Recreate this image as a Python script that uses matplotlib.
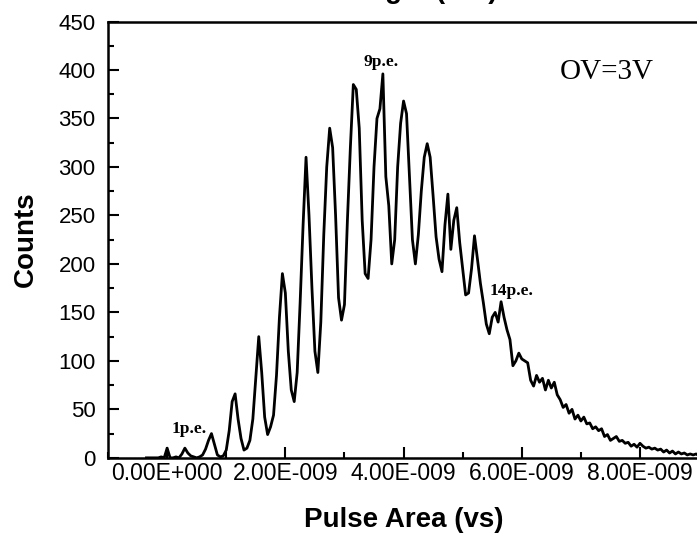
import numpy as np
import matplotlib.pyplot as plt
from matplotlib.ticker import MultipleLocator

# --- histogram (bin centres in units of 1E-9 Vs) ---
x_start = -0.35
bin_width = 0.05
counts = [
    0, 0, 0, 0, 0, 1, 0, 10, 0, 0,
    1, 0, 4, 10, 5, 2, 1, 0, 1, 3,
    9, 18, 25, 14, 3, 1, 2, 8, 28, 58,
    66, 40, 20, 8, 10, 18, 40, 82, 125, 88,
    42, 24, 32, 44, 85, 145, 190, 170, 110, 70,
    58, 88, 160, 240, 310, 250, 175, 110, 88, 140,
    230, 300, 340, 320, 250, 165, 142, 158, 245, 320,
    385, 380, 340, 245, 190, 185, 225, 300, 350, 360,
    396, 290, 260, 200, 225, 300, 345, 368, 355, 290,
    225, 200, 230, 275, 310, 324, 310, 270, 228, 205,
    192, 240, 272, 215, 245, 258, 222, 195, 168, 170,
    195, 229, 205, 180, 160, 138, 128, 145, 150, 140,
    161, 145, 132, 122, 95, 100, 108, 102, 100, 98,
    80, 74, 85, 78, 82, 70, 80, 72, 78, 65,
    60, 52, 55, 46, 50, 40, 44, 38, 42, 35,
    36, 30, 32, 28, 30, 22, 24, 18, 20, 22,
    17, 18, 15, 16, 12, 14, 11, 15, 12, 10,
    11, 9, 10, 8, 9, 6, 8, 5, 7, 4,
    6, 4, 5, 3, 4, 3, 4, 2, 3,
]
area = (x_start + bin_width * np.arange(len(counts))) * 1e-9

x_ticks = [0, 2e-9, 4e-9, 6e-9, 8e-9]
x_ticklabels = ["0.00E+000", "2.00E-009", "4.00E-009", "6.00E-009", "8.00E-009"]

# peak labels: (text, x, y)
peak_labels = [("1p.e.", 0.38e-9, 22), ("9p.e.", 3.62e-9, 400), ("14p.e.", 5.83e-9, 164)]

fig = plt.figure(figsize=(6.97, 5.38), dpi=100)
ax = fig.add_axes([0.155, 0.149, 0.848, 0.811])

ax.plot(area, counts, color='black', lw=2)

ax.set_xlim(-1e-9, 9e-9)
ax.set_ylim(0, 450)
ax.set_xticks(x_ticks)
ax.set_xticklabels(x_ticklabels)
ax.xaxis.set_minor_locator(MultipleLocator(1e-9))
ax.yaxis.set_major_locator(MultipleLocator(50))
ax.yaxis.set_minor_locator(MultipleLocator(25))

ax.tick_params(which='both', direction='in', width=1.5)
ax.tick_params(which='major', length=8)
ax.tick_params(which='minor', length=4)
ax.tick_params(axis='x', labelsize=16.5, pad=3)
ax.tick_params(axis='y', labelsize=16, pad=9)
for lab in ax.get_xticklabels() + ax.get_yticklabels():
    lab.set_family('Liberation Sans')
for sp in ax.spines.values():
    sp.set_linewidth(1.8)

ax.set_xlabel("Pulse Area (vs)", fontsize=20, fontweight='bold', family='Liberation Sans', labelpad=16)
ax.set_ylabel("Counts", fontsize=20, fontweight='bold', family='Liberation Sans', labelpad=14)

for txt, px, py in peak_labels:
    ax.text(px, py, txt, fontsize=12.5, fontweight='bold', family='Liberation Serif',
            ha='center', va='bottom')
ax.text(7.43e-9, 398, "OV=3V", fontsize=21, family='Liberation Serif', ha='center', va='center')

# title is cut off by the top edge of the original image
fig.text(497 / 697, 1.003, "Pulse Height (mV)", fontsize=20, fontweight='bold',
         family='Liberation Sans', ha='right', va='baseline')

fig.savefig("out.png", dpi=100)
